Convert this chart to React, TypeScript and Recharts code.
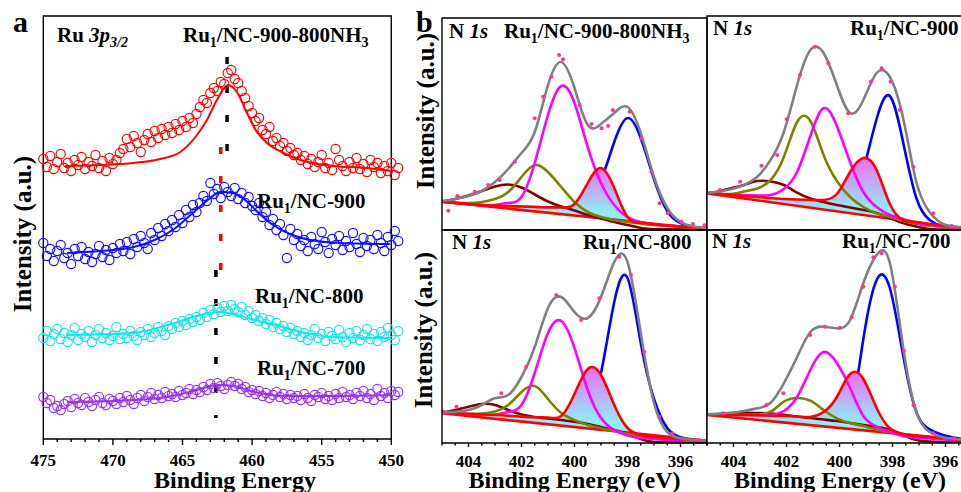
import React from 'react';
import { ComposedChart, Line, Area, Scatter, XAxis, YAxis, ReferenceArea, ReferenceLine } from 'recharts';

const SERIF = '"Liberation Serif", "Times New Roman", serif';

// ---------- panel a : Ru 3p3/2 (intensity in arbitrary units, offset stacked) ----------
// scan grid 475 -> 449.5 eV, 0.25 eV step
const SCAN_A = Array.from({ length: 103 }, (_, i) => 475 - i * 0.25);

const RU_NH3 = [
  280, 272, 283, 270, 277, 285, 271, 276, 268, 279, 274, 282, 270, 277, 273, 284, 271, 278, 268, 281, 275, 279, 286,
  290, 300, 292, 303, 296, 287, 299, 305, 297, 308, 301, 310, 304, 312, 306, 315, 309, 318, 312, 321, 316, 325,
  332, 339, 336, 346, 351, 348, 357, 355, 366,
  369, 360, 356, 348, 341, 333, 326,
  318, 321, 309, 305, 312, 298, 301, 293, 296, 288, 291, 284,
  286, 279, 283, 275, 280, 272, 277, 284, 271, 276, 269, 290, 279, 273, 268, 277, 271, 281, 270, 275, 267, 279, 272, 276, 266, 273, 268, 276, 264, 271,
];
const RU_900 = [
  196, 183, 190, 178, 188, 194, 181, 186, 175, 190, 183, 192, 180, 187, 177, 185, 193, 182, 189, 179, 191, 186, 195,
  188, 197, 185, 200, 192, 203, 196, 190, 206, 199, 211, 203, 215, 208, 219, 212, 224, 216, 229, 222, 234, 227,
  236, 243, 238, 256, 245, 250, 241, 252, 247,
  243, 251, 240, 246, 236, 242, 233,
  229, 236, 222, 227, 214, 220, 209, 215, 204, 181, 210, 199,
  205, 193, 199, 188, 202, 195, 190, 207, 197, 186, 200, 194, 203, 189, 198, 192, 206, 195, 187, 201, 193, 199, 190, 204, 196, 188, 202, 194, 208, 198,
];
const RU_800 = [
  101, 108, 98, 105, 110, 100, 106, 97, 104, 111, 99, 105, 102, 108, 97, 104, 110, 101, 106, 99, 103, 112, 100,
  105, 101, 108, 103, 99, 107, 104, 110, 102, 106, 112, 108, 104, 113, 110, 116, 112, 118, 114, 120, 117, 122,
  119, 126, 122, 129, 125, 131, 127, 133, 128,
  134, 130, 127, 132, 124, 128, 121,
  124, 118, 121, 115, 119, 112, 116, 110, 113, 107, 111, 105,
  108, 102, 106, 99, 104, 110, 101, 105, 98, 107, 103, 100, 109, 102, 97, 106, 101, 108, 99, 104, 110, 100, 105, 98, 107, 102, 111, 104, 99, 108,
];
const RU_700 = [
  42, 36, 39, 31, 33, 29, 35, 38, 32, 40, 36, 34, 41, 37, 33, 39, 42, 36, 34, 40, 38, 35, 41,
  37, 43, 39, 35, 41, 44, 38, 42, 46, 40, 44, 41, 47, 43, 45, 42, 48, 44, 46, 50, 45, 49,
  47, 52, 49, 55, 51, 56, 53, 50, 54,
  57, 53, 55, 50, 52, 47, 49,
  45, 48, 43, 46, 41, 44, 47, 42, 45, 40, 44, 41,
  43, 39, 45, 41, 38, 44, 42, 46, 40, 43, 39, 45, 41, 47, 42, 44, 40, 46, 43, 48, 41, 45, 39, 50, 43, 46, 41, 48, 44, 47,
];

// fitted envelopes [eV, intensity]
const FIT_NH3 = [[473.44, 273], [470.92, 274], [468.52, 276], [466.6, 280], [465.16, 287], [463.96, 304], [463.24, 319], [462.53, 339], [461.73, 354], [461.09, 347], [460.37, 326], [459.65, 307], [458.93, 296], [457.73, 286], [456.53, 279], [454.14, 273], [451.73, 271], [450.06, 268]];
const FIT_900 = [[473.3, 186], [470.9, 188], [468.5, 192], [467.0, 199], [465.5, 211], [464.1, 228], [463.0, 241], [462.3, 247], [461.4, 246], [460.5, 239], [459.6, 227], [458.6, 215], [457.3, 205], [455.8, 199], [453.7, 196], [450.1, 195]];
const FIT_800 = [[473.3, 104], [468.5, 106], [466.1, 114], [463.7, 124], [462.5, 127], [461.3, 125], [460.1, 120], [458.9, 116], [456.5, 107], [454.2, 102], [450.1, 101]];
const FIT_700 = [[473.3, 37], [468.5, 39], [466.1, 42], [463.7, 50], [462.5, 54], [461.3, 53], [460.1, 48], [457.7, 43], [454.2, 43], [450.1, 44]];

const TICKS_A = [475, 474, 473, 472, 471, 470, 469, 468, 467, 466, 465, 464, 463, 462, 461, 460, 459, 458, 457, 456, 455, 454, 453, 452, 451, 450];
const LABELS_A = [475, 470, 465, 460, 455, 450];

// ---------- panel b : N 1s deconvolution ----------
const E_L = [405, 404.5, 404, 403.5, 403, 402.5, 402, 401.5, 401, 400.5, 400, 399.5, 399, 398.5, 398, 397.5, 397, 396.5, 396, 395.5, 395];
const E_R = [405.1, 404.6, 404.1, 403.6, 403.1, 402.6, 402.1, 401.6, 401.1, 400.6, 400.1, 399.6, 399.1, 398.6, 398.1, 397.6, 397.1, 396.6, 396.1, 395.6, 395.1];

// Ru1/NC-900-800NH3
const NH3 = {
  gray: [29, 31, 34, 39, 48, 61, 77, 98, 145, 168, 142, 105, 106, 117, 123, 97, 53, 22, 8, 3.5, 1.7],
  blue: [28, 27, 26, 25, 24, 23.5, 23, 23, 22.5, 22.5, 23, 30, 50, 88, 112, 92, 51, 19, 7, 3, 1],
  red: [28.3, 27, 26, 25, 24.5, 24, 23.5, 23, 22.5, 22.5, 26, 47, 62, 42, 13, 7, 5.5, 4.5, 3.5, 2.5, 1.5],
  mag: [28.3, 27, 26, 25, 25, 27, 33, 67, 115, 144, 127, 83, 47, 25, 13, 8, 5.5, 4.5, 3.5, 2.5, 1.5],
  olive: [28.3, 27.5, 27, 28, 31, 38, 53, 65, 58, 43, 28, 18, 13, 10, 8, 6.5, 5, 4, 3, 2, 1],
  brown: [28.3, 31, 34.5, 39, 43.5, 45.5, 42.5, 35.5, 28.5, 23.5, 19.5, 15, 11.5, 8, 5, 2, 0.8, 0.8, 0.8, 0.8, 0.8],
  base: [[405, 28.3], [395, 0.7]],
  dots: [[404.76, 19.3], [404.42, 34], [403.76, 38.3], [403.26, 45], [402.82, 50], [402.25, 68.3], [401.5, 111.7], [401.18, 133.3], [400.87, 153.3], [400.58, 175], [400.43, 170.7], [399.8, 125], [399.36, 106], [398.98, 101.7], [398.73, 104], [398.55, 120], [397.92, 118.3], [397.48, 91.7], [397.1, 58.3], [396.79, 26.7], [396.48, 16.7], [395.97, 8.3], [395.53, 6], [395.09, 4.7]],
};
// Ru1/NC-900
const N900 = {
  gray: [36.7, 38.3, 40.7, 45, 53.3, 70, 98, 145, 180, 177, 145, 117, 130, 157, 153, 112, 48, 18, 6, 3.3, 2],
  blue: [36.7, 35.5, 34, 33, 31.5, 30, 29, 28, 27.5, 27, 26, 25, 60, 111, 134, 88, 32, 10, 3.5, 1.5, 1],
  red: [36.7, 36, 35, 34, 33, 32, 31, 30.5, 30, 30, 36, 58, 72, 60, 26, 10, 8, 6, 4.5, 3, 2],
  mag: [36.7, 36, 35.5, 35, 34.5, 35, 41, 58, 94, 121.7, 104, 68, 38, 23, 15, 11, 7, 5, 3.5, 2.5, 1.5],
  olive: [36.7, 36.3, 36, 38.5, 41.5, 50, 73, 108, 109, 75, 49, 33, 23, 16.7, 13, 9, 6, 4, 3, 2, 1.5],
  brown: [36.7, 38.3, 41.7, 45, 49, 48.5, 45, 37.3, 31.5, 28, 25, 22.5, 20, 17, 12, 7, 3.5, 1, 0.5, 0.5, 0.5],
  base: [[405.1, 37], [395.1, 0.4]],
  dots: [[404.51, 40], [403.75, 48.3], [402.94, 64.3], [402.35, 75], [401.99, 110.7], [401.49, 155], [400.92, 183.3], [400.42, 166.7], [399.67, 116.7], [398.82, 148.3], [398.41, 161.7], [398.07, 148.3], [397.72, 120], [397.21, 63.3], [396.46, 16.7], [395.77, 4]],
};
// Ru1/NC-800
const N800 = {
  gray: [30.3, 31.3, 33, 38, 44.7, 48, 66, 96, 135, 146, 131, 125, 146, 181, 181, 110, 40, 11, 4.7, 3, 2.3],
  blue: [30, 29, 28, 27, 26, 25, 24.5, 24, 23.5, 23.5, 24, 30, 70, 141, 165, 100, 44, 15, 5.7, 3, 2],
  red: [30, 29.5, 29, 28.5, 28, 27.3, 26.3, 25.7, 25.5, 27, 49, 74, 68, 38, 15, 8, 6, 5, 4, 3, 2.5],
  mag: [30, 29.5, 29, 28.5, 28.5, 31, 38, 70, 110, 122, 95, 53, 25, 13, 7.5, 5, 4, 3, 2.5, 2, 1.5],
  olive: [30, 29.5, 29.2, 29.5, 31.5, 38, 51, 57, 44, 30, 23, 18, 14.7, 12, 9, 6.5, 5, 4, 3, 2.5, 2],
  brown: [30.3, 33, 36.3, 39, 38, 33, 28.5, 26, 24.5, 23, 21.3, 19, 16, 13, 9, 4, 1, 0.8, 0.8, 0.8, 0.8],
  base: [[405, 29.7], [395, 2.3]],
  dots: [[404.95, 31.3], [404.45, 36.3], [402.76, 49.7], [401.82, 76.3], [400.69, 148], [399.75, 123], [399.06, 144.7], [398.31, 186.3], [397.87, 168], [397.37, 91.3], [396.8, 26.3], [396.3, 9.7], [395.3, 3]],
};
// Ru1/NC-700
const N700 = {
  gray: [28.7, 29.3, 30.3, 32, 34.7, 40.3, 59.7, 86, 111, 116.3, 114.7, 123, 160, 188, 180, 96, 31, 11, 5.7, 4, 3],
  blue: [28.7, 28.3, 28, 27.5, 27, 26.5, 26, 25.5, 25, 24.5, 24, 28, 104, 163, 155, 88, 31, 13.7, 8, 5, 3],
  red: [28.7, 28.5, 28.2, 28, 27.7, 27.3, 27, 26.5, 26, 31, 46, 69, 64, 35, 14.7, 9, 7, 6, 5, 4, 3],
  mag: [28.7, 28.5, 28.2, 28, 27.8, 28, 32, 46, 73, 91, 80, 55, 27, 16.3, 11, 7, 5.5, 4.5, 3.5, 3, 2.5],
  olive: [28.7, 28.5, 28.2, 28, 28.5, 31.3, 41.3, 45, 42.3, 33, 24.7, 20, 17, 13.5, 11, 9, 7, 5.5, 4.5, 3.5, 2.5],
  brown: [28, 28.8, 29.7, 30.3, 30, 29.5, 28.3, 26.5, 25, 23.5, 22, 20, 18, 16, 13.5, 8, 3, 1.5, 1, 1, 1],
  base: [[405.1, 28.3], [395.1, 2.3]],
  dots: [[404.38, 29.7], [402.75, 38], [402.12, 49.7], [401.11, 108], [400.55, 116.3], [399.98, 115.3], [399.54, 125.7], [399.1, 156.3], [398.72, 185.7], [398.41, 189.7], [397.91, 156.3], [397.57, 92], [397.21, 38], [396.46, 9.7], [395.7, 4.7]],
};

const TICKS_B = [405, 404.5, 404, 403.5, 403, 402.5, 402, 401.5, 401, 400.5, 400, 399.5, 399, 398.5, 398, 397.5, 397, 396.5, 396, 395.5, 395];
const LABELS_B = [404, 402, 400, 398, 396];

const rows = (xs: number[], vs: number[]) => xs.map((e, i) => ({ e, v: vs[i] }));
const pts = (p: number[][]) => p.map(([e, v]) => ({ e, v }));

// one axis carries both the minor and the labelled major ticks
const makeTick = (labels: number[], majorLen: number, minorLen: number, textDy: number) => (p: any) => {
  const val = p.payload.value;
  const major = labels.includes(val);
  return (
    <g>
      <line x1={p.x} x2={p.x} y1={p.y} y2={p.y + (major ? majorLen : minorLen)} stroke="#000" strokeWidth={1.4} />
      {major ? (
        <text x={p.x} y={p.y + textDy} textAnchor="middle" fontSize={17} fontWeight={700} fontFamily={SERIF} fill="#000">{val}</text>
      ) : null}
    </g>
  );
};
const tickA = makeTick(LABELS_A, 6, 3, 27);
const tickB = makeTick(LABELS_B, 4, 2.5, 24);

const ring = (color: string) => (p: any) => (
  <circle cx={p.cx} cy={p.cy} r={4.6} fill="none" stroke={color} strokeWidth={1.15} />
);
const pinkDot = (p: any) => <circle cx={p.cx} cy={p.cy} r={2} fill="#ff3399" />;

const SERIES_A = [
  { vals: RU_NH3, fit: FIT_NH3, color: '#ff0000' },
  { vals: RU_900, fit: FIT_900, color: '#1010ff' },
  { vals: RU_800, fit: FIT_800, color: '#19e3ec' },
  { vals: RU_700, fit: FIT_700, color: '#9933ee' },
];

const PanelA = () => (
  <div style={{ position: 'absolute', left: 0, top: 0 }}>
    <ComposedChart width={420} height={492} margin={{ top: 16, right: 14.8, bottom: 23, left: 29.4 }}>
      <XAxis dataKey="e" type="number" domain={[449, 476]} reversed ticks={TICKS_A} interval={0} height={30}
        axisLine={false} tickLine={false} tickSize={0} tickMargin={0} tick={tickA} />
      <YAxis hide dataKey="v" type="number" domain={[0, 423]} />
      {SERIES_A.map((s, k) => (
        <Scatter key={'s' + k} data={rows(SCAN_A, s.vals)} dataKey="v" shape={ring(s.color)} isAnimationActive={false} />
      ))}
      {SERIES_A.map((s, k) => (
        <Line key={'f' + k} data={pts(s.fit)} dataKey="v" type="monotone" stroke={s.color} strokeWidth={2}
          dot={false} activeDot={false} isAnimationActive={false} />
      ))}
      <ReferenceLine segment={[{ x: 461.8, y: 382 }, { x: 461.8, y: 287 }]} stroke="#000" strokeWidth={3.5} strokeDasharray="7 22" />
      <ReferenceLine segment={[{ x: 462.25, y: 292 }, { x: 462.25, y: 169 }]} stroke="#ff0000" strokeWidth={3.5} strokeDasharray="7 22" />
      <ReferenceLine segment={[{ x: 462.6, y: 169 }, { x: 462.6, y: 21 }]} stroke="#000" strokeWidth={3.5} strokeDasharray="7 22" />
      <ReferenceArea x1={450} x2={475} y1={0} y2={423} fill="none" fillOpacity={0} stroke="#000" strokeWidth={1.4} />
    </ComposedChart>
  </div>
);

interface NProps {
  d: any; grid: number[]; ymax: number;
  left: number; top: number; height: number; mb: number;
  ticks: boolean; gid: string;
}

const DOM_B: [number, number] = [395, 405];

const NPanel = ({ d, grid, ymax, left, top, height, mb, ticks, gid }: NProps) => (
  <div style={{ position: 'absolute', left, top }}>
    <ComposedChart width={285} height={height} margin={{ top: 10, right: 10, bottom: mb, left: 10 }}>
      <defs>
        <linearGradient id={gid} x1="0" y1="0" x2="0" y2="1">
          <stop offset="0" stopColor="#f06cf0" />
          <stop offset="0.72" stopColor="#8eeefa" />
          <stop offset="1" stopColor="#8eeefa" />
        </linearGradient>
      </defs>
      {ticks ? (
        <XAxis dataKey="e" type="number" domain={DOM_B} reversed allowDataOverflow ticks={TICKS_B} interval={0} height={30}
          axisLine={false} tickLine={false} tickSize={0} tickMargin={0} tick={tickB} />
      ) : (
        <XAxis dataKey="e" type="number" domain={DOM_B} reversed allowDataOverflow hide />
      )}
      <YAxis hide dataKey="v" type="number" domain={[0, ymax]} />
      <Line data={rows(grid, d.blue)} dataKey="v" type="natural" stroke="#0000ff" strokeWidth={2.6} dot={false} activeDot={false} isAnimationActive={false} zIndex={90} />
      <Area data={rows(grid, d.red)} dataKey="v" type="natural" stroke="none" fill={`url(#${gid})`} fillOpacity={1} baseValue={0} dot={false} activeDot={false} isAnimationActive={false} zIndex={100} />
      <Area data={pts(d.base)} dataKey="v" type="linear" stroke="none" fill="#ffffff" fillOpacity={1} baseValue={0} dot={false} activeDot={false} isAnimationActive={false} zIndex={101} />
      <Line data={pts(d.base)} dataKey="v" type="linear" stroke="#ff0000" strokeWidth={2.6} dot={false} activeDot={false} isAnimationActive={false} />
      <Line data={rows(grid, d.brown)} dataKey="v" type="natural" stroke="#800000" strokeWidth={2.6} dot={false} activeDot={false} isAnimationActive={false} />
      <Line data={rows(grid, d.olive)} dataKey="v" type="natural" stroke="#808000" strokeWidth={2.6} dot={false} activeDot={false} isAnimationActive={false} />
      <Line data={rows(grid, d.mag)} dataKey="v" type="natural" stroke="#ff00ff" strokeWidth={2.6} dot={false} activeDot={false} isAnimationActive={false} />
      <Line data={rows(grid, d.red)} dataKey="v" type="natural" stroke="#ff0000" strokeWidth={2.6} dot={false} activeDot={false} isAnimationActive={false} />
      <Line data={rows(grid, d.gray)} dataKey="v" type="natural" stroke="#808080" strokeWidth={2.6} dot={false} activeDot={false} isAnimationActive={false} />
      <Scatter data={pts(d.dots)} dataKey="v" shape={pinkDot} isAnimationActive={false} />
      <ReferenceArea x1={395} x2={405} y1={0} y2={ymax} fill="none" fillOpacity={0} stroke="#000" strokeWidth={1.4} zIndex={700} />
    </ComposedChart>
  </div>
);

const Ru = ({ x, y, tail, nh3 }: { x: number; y: number; tail: string; nh3?: boolean }) => (
  <text x={x} y={y} fontSize={21}>
    Ru<tspan fontSize={14} dy={5}>1</tspan>
    <tspan dy={-5}>/NC-{tail}</tspan>
    {nh3 ? <tspan fontSize={14} dy={5}>3</tspan> : null}
  </text>
);

const N1s = ({ x, y }: { x: number; y: number }) => (
  <text x={x} y={y} fontSize={21}>N <tspan fontStyle="italic">1s</tspan></text>
);

const Labels = () => (
  <svg width={961} height={492} style={{ position: 'absolute', left: 0, top: 0, pointerEvents: 'none' }}
    fontFamily={SERIF} fontWeight="bold" fill="#000">
    <text x={13} y={32} fontSize={30}>a</text>
    <text x={416} y={32} fontSize={30}>b</text>
    <text x={57} y={42} fontSize={21}>Ru <tspan fontStyle="italic">3p</tspan><tspan fontStyle="italic" fontSize={14} dy={5}>3/2</tspan></text>
    <Ru x={183} y={42} tail="900-800NH" nh3 />
    <Ru x={257} y={208} tail="900" />
    <Ru x={255} y={303} tail="800" />
    <Ru x={257} y={375} tail="700" />
    <text x={235} y={488} fontSize={24} textAnchor="middle">Binding Energy</text>
    <text transform="translate(31,234) rotate(-90)" fontSize={25} textAnchor="middle">Intensity (a.u.)</text>

    <N1s x={449} y={38} />
    <Ru x={504} y={38} tail="900-800NH" nh3 />
    <N1s x={713} y={35} />
    <Ru x={850} y={35} tail="900" />
    <N1s x={452} y={249} />
    <Ru x={583} y={249} tail="800" />
    <N1s x={712} y={248} />
    <Ru x={842} y={248} tail="700" />
    <text x={574.5} y={488} fontSize={24} textAnchor="middle">Binding Energy (eV)</text>
    <text x={840} y={488} fontSize={24} textAnchor="middle">Binding Energy (eV)</text>
    <text transform="translate(434,111) rotate(-90)" fontSize={25} textAnchor="middle">Intensity (a.u.)</text>
    <text transform="translate(432,330) rotate(-90)" fontSize={25} textAnchor="middle">Intensity (a.u.)</text>
  </svg>
);

export default function App() {
  return (
    <div style={{ position: 'fixed', left: 0, top: 0, width: 961, height: 492, overflow: 'hidden', background: '#fff' }}>
      <PanelA />
      <NPanel d={NH3} grid={E_L} ymax={212} left={432} top={8} height={232} mb={10} ticks={false} gid="fillTL" />
      <NPanel d={N900} grid={E_R} ymax={214} left={697} top={6} height={234} mb={10} ticks={false} gid="fillTR" />
      <NPanel d={N800} grid={E_L} ymax={213} left={432} top={220} height={263} mb={10} ticks gid="fillBL" />
      <NPanel d={N700} grid={E_R} ymax={213} left={697} top={220} height={263} mb={10} ticks gid="fillBR" />
      <Labels />
    </div>
  );
}
